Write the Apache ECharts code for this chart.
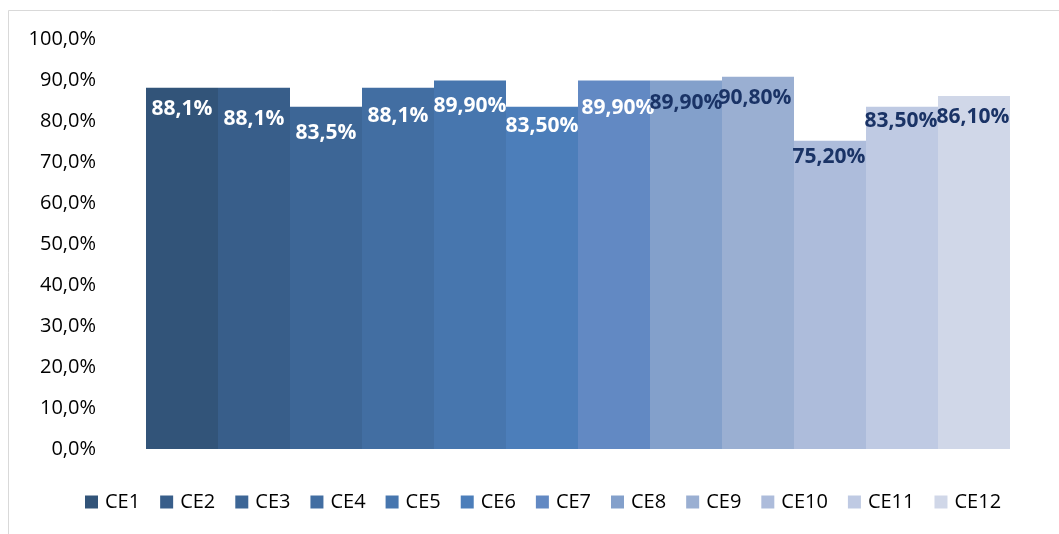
<!DOCTYPE html>
<html>
<head>
<meta charset="utf-8">
<title>CE</title>
<script src="https://cdn.jsdelivr.net/npm/echarts@6/dist/echarts.min.js"></script>
<style>
  html, body { margin: 0; padding: 0; background: #ffffff; }
  #chart { width: 1059px; height: 534px; }
</style>
</head>
<body>
<div id="chart"></div>
<script>
// Series names and their values (percent)
const seriesNames = ['CE1', 'CE2', 'CE3', 'CE4', 'CE5', 'CE6', 'CE7', 'CE8', 'CE9', 'CE10', 'CE11', 'CE12'];
const seriesValues = [88.1, 88.1, 83.5, 88.1, 89.9, 83.5, 89.9, 89.9, 90.8, 75.2, 83.5, 86.1];
// Number of decimals shown in each value label
const labelDecimals = [1, 1, 1, 1, 2, 2, 2, 2, 2, 2, 2, 2];
// Y axis range
const yMin = 0, yMax = 100, yStep = 10;

// Styling
const palette = ['#325479', '#385E8A', '#3D6696', '#426EA2', '#4776AE', '#4C7EBA',
                 '#6289C3', '#83A0CB', '#9AAFD2', '#ADBCDB', '#BFCAE3', '#D0D7E8'];
const labelColors = ['#ffffff', '#ffffff', '#ffffff', '#ffffff', '#ffffff', '#ffffff', '#ffffff',
                     '#1A3366', '#1A3366', '#1A3366', '#1A3366', '#1A3366'];
// Label placement below each bar top: [dx, dy] in px
const labelShift = [[0, 11], [0, 21], [0, 16], [0, 18], [0, 15], [0, 9],
                    [4, 17], [0, 12], [-3, 11], [-1, 6], [-1, 4], [-1, 11]];

const fmt = (v, d) => v.toFixed(d).replace('.', ',') + '%';

const chart = echarts.init(document.getElementById('chart'), null, { renderer: 'canvas' });

const series = seriesNames.map((name, i) => ({
  name: name,
  type: 'bar',
  data: [seriesValues[i]],
  barWidth: 72,
  barGap: '0%',
  itemStyle: { color: palette[i] },
  emphasis: { disabled: true },
  label: {
    show: true,
    position: 'insideTop',
    distance: 0,
    offset: labelShift[i],
    color: labelColors[i],
    fontFamily: 'Open Sans',
    fontWeight: 'bold',
    fontSize: 21,
    lineHeight: 21,
    formatter: () => fmt(seriesValues[i], labelDecimals[i])
  }
}));

chart.setOption({
  animation: false,
  backgroundColor: '#ffffff',
  color: palette,
  graphic: [{
    type: 'rect',
    shape: { x: 8.5, y: 10.5, width: 1200, height: 700 },
    style: { fill: 'none', stroke: '#D9D9D9', lineWidth: 1 },
    silent: true
  }],
  grid: { left: 110, right: 13, top: 39, bottom: 85, containLabel: false },
  legend: {
    data: seriesNames,
    left: 80,
    top: 486,
    icon: 'rect',
    itemWidth: 13,
    itemHeight: 13,
    itemGap: 20,
    textStyle: { fontFamily: 'Open Sans', fontSize: 20, color: '#000000', lineHeight: 22, padding: [0, 0, 0, 2] }
  },
  xAxis: {
    type: 'category',
    data: [''],
    axisLine: { show: false },
    axisTick: { show: false },
    axisLabel: { show: false }
  },
  yAxis: {
    type: 'value',
    min: yMin,
    max: yMax,
    interval: yStep,
    axisLine: { show: false },
    axisTick: { show: false },
    splitLine: { show: false },
    axisLabel: {
      margin: 14,
      fontFamily: 'Open Sans',
      fontSize: 20,
      color: '#000000',
      formatter: v => fmt(v, 1)
    }
  },
  series: series
});
</script>
</body>
</html>
